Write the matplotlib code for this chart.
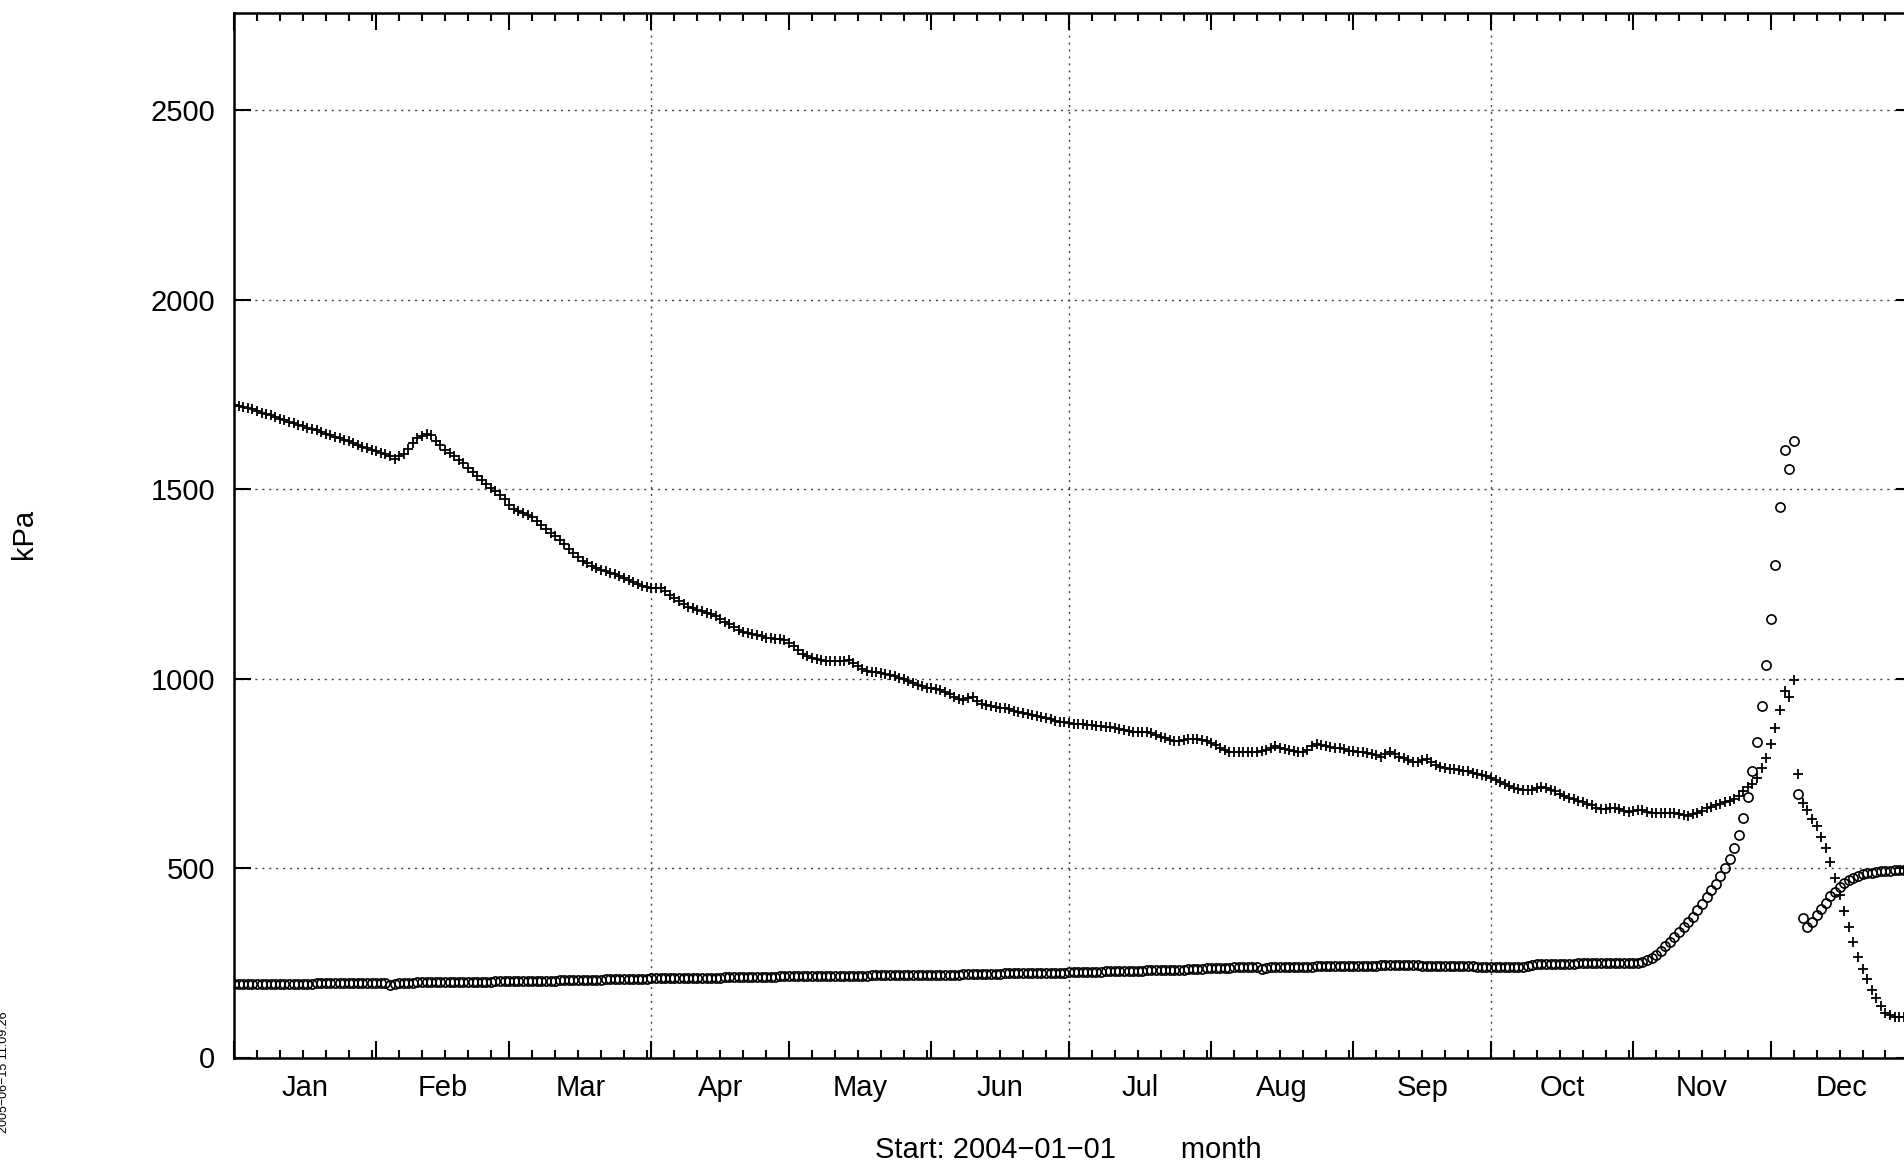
import numpy as np
import matplotlib
matplotlib.use("Agg")
import matplotlib.pyplot as plt
from matplotlib.transforms import blended_transform_factory

plt.rcParams['font.family'] = ['Liberation Sans', 'DejaVu Sans']

# ---------------- data ----------------
month_names = ['Jan', 'Feb', 'Mar', 'Apr', 'May', 'Jun',
               'Jul', 'Aug', 'Sep', 'Oct', 'Nov', 'Dec']
month_lengths = [31, 29, 31, 30, 31, 30, 31, 31, 30, 31, 30, 31]
y_ticks = [0, 500, 1000, 1500, 2000, 2500]
x_label = 'Start: 2004\u221201\u221201        month'
y_label = 'kPa'
stamp = '2005\u221206\u221215 11:09:26'

# daily values, series drawn with "+"
plus_jan = [1722,1720,1717,1714,1711,1706,1701,1698,1695,1690,1686,1682,1678,1674,1670,1666,
            1662,1658,1655,1650,1646,1642,1638,1634,1630,1626,1622,1617,1612,1608,1604]
plus_feb = [1600,1596,1592,1588,1578,1586,1592,1605,1622,1634,1641,1646,1643,1628,1615,1604,
            1594,1586,1576,1568,1556,1545,1535,1525,1514,1503,1494,1485,1475]
plus_mar = [1458,1448,1442,1438,1432,1425,1416,1405,1394,1385,1375,1366,1354,1342,1331,1320,
            1311,1305,1298,1292,1287,1283,1279,1275,1271,1265,1260,1256,1250,1245,1241]
plus_apr = [1240,1240,1238,1230,1220,1212,1205,1197,1190,1185,1181,1177,1173,1170,1166,1158,
            1150,1143,1136,1129,1124,1120,1117,1114,1111,1108,1106,1105,1104,1101]
plus_may = [1095,1085,1075,1066,1060,1055,1051,1048,1046,1046,1045,1045,1047,1049,1040,1032,
            1026,1021,1018,1016,1014,1012,1010,1006,1002,998,994,989,984,979,976]
plus_jun = [974,972,970,964,958,952,947,944,948,950,940,932,929,927,925,923,922,919,915,912,
            909,907,904,901,899,896,892,888,886,884]
plus_jul = [882,881,880,879,878,877,876,875,873,871,869,866,863,861,860,860,860,859,855,850,
            846,842,838,835,836,839,841,841,840,838,836]
plus_aug = [831,825,818,811,807,806,806,806,806,806,806,808,812,818,822,818,815,812,808,805,
            806,812,822,828,825,822,820,818,816,813,810]
plus_sep = [808,806,805,803,800,797,794,800,806,801,794,789,784,780,779,784,787,780,772,767,
            763,761,760,759,757,755,752,749,746,742]
plus_oct = [738,733,727,721,716,712,709,707,706,706,710,713,711,706,702,696,689,684,681,678,
            674,670,665,658,655,656,658,658,655,651,649]
plus_nov = [650,652,653,649,646,645,645,645,645,645,643,640,638,642,645,651,658,662,666,670,
            674,677,683,690,702,713,722,738,764,790]
plus_dec = [826,869,917,968,952,995,747,672,653,629,610,581,552,516,473,430,387,344,304,264,
            233,208,178,156,135,118,111,108,107,106,106]

# daily values, series drawn with open circles
circ_jan = [193,193,193,194,194,194,194,194,194,194,195,195,195,195,195,195,195,195,196,196,
            196,196,196,196,196,196,196,196,197,197,197]
circ_feb = [197,197,196,191,194,196,197,197,197,198,198,198,198,198,199,199,199,199,199,199,
            200,200,200,200,200,200,201,201,201]
circ_mar = [201,201,202,202,202,202,203,203,203,203,203,204,204,204,204,204,205,205,205,205,
            205,206,206,206,206,207,207,207,207,208,208]
circ_apr = [209,209,209,209,210,210,210,210,210,210,211,211,211,211,211,211,212,212,212,212,
            212,212,213,213,213,213,213,213,214,214]
circ_may = [214,214,214,214,215,215,215,215,215,215,215,216,216,216,216,216,216,216,217,217,
            217,217,217,217,217,218,218,218,218,218,218]
circ_jun = [218,219,219,219,219,219,219,220,220,220,220,220,220,221,221,221,222,222,222,222,
            222,223,223,223,223,223,224,224,224,224]
circ_jul = [225,225,225,226,226,226,226,226,227,227,227,227,228,228,229,229,229,230,230,230,
            231,231,231,232,232,232,233,233,234,234,235]
circ_aug = [235,236,236,237,237,238,238,239,239,239,240,233,236,238,238,239,239,239,240,240,
            240,240,240,241,241,241,241,241,241,241,241]
circ_sep = [242,242,242,242,242,242,243,243,243,243,243,243,243,243,243,242,242,242,242,242,
            241,241,241,241,241,241,241,240,240,240]
circ_oct = [240,240,240,240,240,240,240,240,241,243,246,247,247,247,248,248,248,248,248,249,
            249,249,249,249,249,249,250,250,250,250,250]
circ_nov = [250,250,252,257,263,271,281,293,305,318,331,345,358,372,388,405,423,441,459,479,
            500,524,554,588,631,688,756,833,927,1035]
circ_dec = [1158,1299,1452,1602,1554,1626,694,369,344,358,376,393,409,425,438,450,460,468,474,479,
            483,486,488,490,491,492,493,494,494,495,495]

plus_vals = np.concatenate([plus_jan, plus_feb, plus_mar, plus_apr, plus_may, plus_jun,
                            plus_jul, plus_aug, plus_sep, plus_oct, plus_nov, plus_dec])
circ_vals = np.concatenate([circ_jan, circ_feb, circ_mar, circ_apr, circ_may, circ_jun,
                            circ_jul, circ_aug, circ_sep, circ_oct, circ_nov, circ_dec])
days = np.arange(len(plus_vals))

# ---------------- figure ----------------
W, H = 1904, 1168
fig = plt.figure(figsize=(W / 100, H / 100), dpi=100)
ax_left, ax_right, ax_bottom, ax_top = 234, 1913, 1057.5, 12.7
ax = fig.add_axes([ax_left / W, 1 - ax_bottom / H, (ax_right - ax_left) / W, (ax_bottom - ax_top) / H])

starts = np.concatenate([[0], np.cumsum(month_lengths)])
total = starts[-1]

grid_kw = dict(color='#444444', lw=1.0, ls=(0, (1.5, 3.5)), zorder=1)
for v in y_ticks[1:]:
    ax.axhline(v, **grid_kw)
for q in (3, 6, 9):
    ax.axvline(starts[q], **grid_kw)

ax.plot(days, plus_vals, ls='none', marker='+', ms=6.5, mew=1.3, color='black', zorder=3)
ax.plot(days, circ_vals, ls='none', marker='o', ms=6.6, mfc='none', mew=1.2,
        color='black', zorder=3)

ax.set_xlim(0, total)
ax.set_ylim(0, 2757)
ax.set_yticks(y_ticks)
ax.set_yticklabels([str(v) for v in y_ticks])
ax.set_xticks(starts)
ax.set_xticklabels([''] * len(starts))
minor = []
for s, L in zip(starts[:-1], month_lengths):
    minor.extend(range(s + 5, s + L + 1, 5))
minor = [m for m in minor if m not in set(starts)]
ax.set_xticks(minor, minor=True)

ax.tick_params(which='major', direction='in', length=12.5, width=1.5,
               top=True, right=True, labelsize=21, pad=13.5, colors='black')
ax.tick_params(which='minor', direction='in', length=6, width=1.5, top=True)
for sp in ax.spines.values():
    sp.set_linewidth(1.8)

tr = blended_transform_factory(ax.transData, ax.transAxes)
for s, L, name in zip(starts[:-1], month_lengths, month_names):
    ax.text(s + L / 2, -0.0295, name, transform=tr, ha='center', va='center', fontsize=21)

fig.text(1068 / W, 1 - 1150 / H, x_label, ha='center', va='center', fontsize=21)
fig.text(24 / W, 1 - 534 / H, y_label, ha='center', va='center', rotation=90, fontsize=21)
fig.text(4 / W, 1 - 1072 / H, stamp, ha='center', va='center', rotation=90, fontsize=9)

fig.savefig('out.png', dpi=100)
